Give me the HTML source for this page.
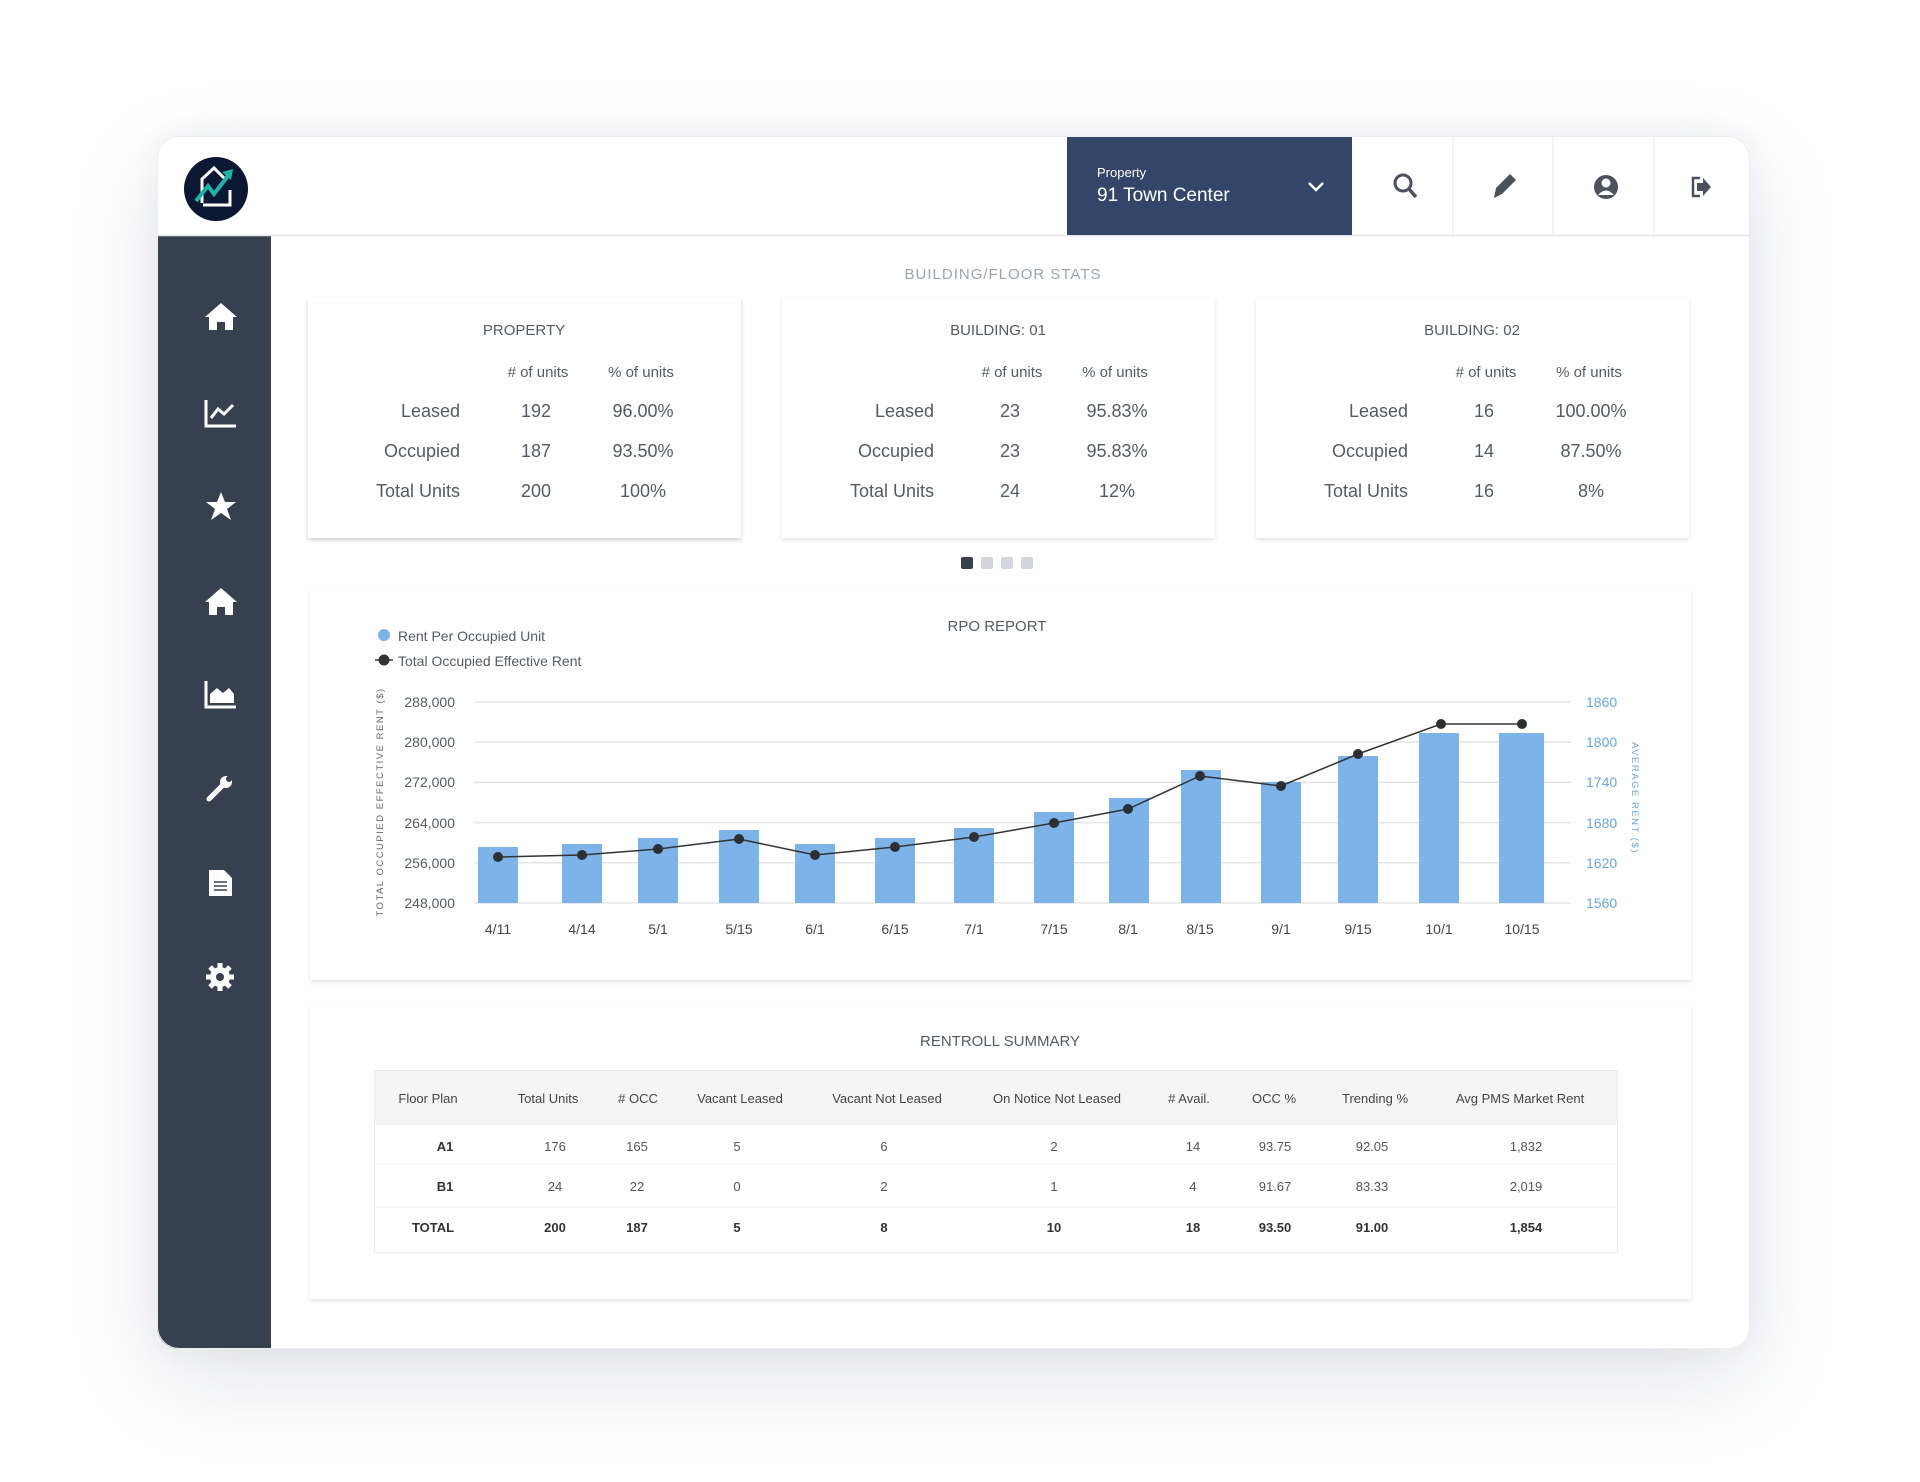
<!DOCTYPE html>
<html><head><meta charset="utf-8">
<style>
html,body{margin:0;padding:0;background:#fff;}
body{width:1920px;height:1482px;position:relative;overflow:hidden;font-family:"Liberation Sans",sans-serif;}
.shadow{position:absolute;left:157px;top:136px;width:1593px;height:1213px;border-radius:22px;box-shadow:0 30px 90px rgba(40,50,80,0.13),0 0 30px rgba(40,50,80,0.05);background:#fff;}
svg{position:absolute;left:0;top:0;}
</style></head><body>
<div class="shadow"></div>
<svg width="1920" height="1482" viewBox="0 0 1920 1482" font-family="Liberation Sans, sans-serif">
<defs>
<filter id="cs" x="-5%" y="-5%" width="110%" height="115%"><feDropShadow dx="0" dy="2" stdDeviation="2" flood-color="#000" flood-opacity="0.10"/></filter>
<clipPath id="cc"><rect x="157" y="136" width="1593" height="1213" rx="22"/></clipPath>
</defs>
<g clip-path="url(#cc)">
<rect x="157" y="136" width="1593" height="1213" fill="#fff"/>
<rect x="157" y="235" width="114" height="1114" fill="#36404e"/>
<line x1="157" y1="235.5" x2="1750" y2="235.5" stroke="#e4e6ea" stroke-width="1.5"/>
<rect x="1067" y="136" width="285" height="99" fill="#34456a"/>
</g>
<rect x="157.5" y="136.5" width="1592" height="1212" rx="22" fill="none" stroke="#eceef1"/>
<!-- header dividers -->
<line x1="1453" y1="136" x2="1453" y2="235" stroke="#e6e8eb"/>
<line x1="1553" y1="136" x2="1553" y2="235" stroke="#e6e8eb"/>
<line x1="1654" y1="136" x2="1654" y2="235" stroke="#e6e8eb"/>
<!-- logo -->
<circle cx="216" cy="189" r="32" fill="#0b1733"/>
<path d="M202 203 L202 179 L214 168 L224 178" fill="none" stroke="#fff" stroke-width="3"/>
<path d="M203 205 L230 205 L230 190" fill="none" stroke="#fff" stroke-width="3"/>
<path d="M196 201 L208 186 L214 194 L228 176" fill="none" stroke="#1fb3a8" stroke-width="4"/>
<polygon points="222,172 233,169 231,180" fill="#1fb3a8"/>
<!-- dropdown -->
<text x="1097" y="177" fill="#fff" font-size="13">Property</text>
<text x="1097" y="201" fill="#fff" font-size="19">91 Town Center</text>
<path d="M1309 183 L1316 190 L1323 183" fill="none" stroke="#fff" stroke-width="2.5"/>
<!-- header icons -->
<circle cx="1403" cy="183" r="8" fill="none" stroke="#4a525c" stroke-width="3"/>
<line x1="1409" y1="189" x2="1416" y2="197" stroke="#4a525c" stroke-width="3.5"/>
<path d="M1494 198 L1496 188 L1510 174 L1516 180 L1502 194 Z" fill="#4a525c"/>
<circle cx="1606" cy="187" r="12" fill="#4a525c"/>
<circle cx="1606" cy="183" r="4.5" fill="#fff"/>
<path d="M1598 195 Q1606 186 1614 195" fill="#fff"/>
<path d="M1700 178 L1693 178 L1693 196 L1700 196" fill="none" stroke="#4a525c" stroke-width="2.5"/>
<polygon points="1697,183 1703,183 1703,178 1711,187 1703,196 1703,191 1697,191" fill="#4a525c"/>
<!-- sidebar icons -->
<g fill="#fff">
<polygon points="221,303 237,317 233,317 233,330 225,330 225,322 217,322 217,330 209,330 209,317 205,317"/>
<path d="M206 400 L206 426 L236 426" fill="none" stroke="#fff" stroke-width="3"/>
<path d="M211 418 L218 409 L224 414 L233 405" fill="none" stroke="#fff" stroke-width="3"/>
<polygon points="221,492 225,502 236,502 227,509 231,520 221,513 211,520 215,509 206,502 217,502"/>
<polygon points="221,588 237,602 233,602 233,615 225,615 225,607 217,607 217,615 209,615 209,602 205,602"/>
<path d="M206 681 L206 707 L236 707" fill="none" stroke="#fff" stroke-width="3"/>
<polygon points="210,703 210,694 217,688 223,693 229,688 234,694 234,703"/>
<path d="M209 799 L223 785" stroke="#fff" stroke-width="5" stroke-linecap="round"/>
<circle cx="226" cy="782" r="6"/>
<circle cx="229" cy="779" r="3" fill="#36404e"/>
<path d="M209 870 L224 870 L232 878 L232 896 L209 896 Z"/>
<g stroke="#36404e" stroke-width="1.5"><line x1="214" y1="882" x2="227" y2="882"/><line x1="214" y1="886" x2="227" y2="886"/><line x1="214" y1="890" x2="227" y2="890"/></g>
<circle cx="220" cy="977" r="10"/>
<g stroke="#fff" stroke-width="5"><line x1="220" y1="963" x2="220" y2="991"/><line x1="206" y1="977" x2="234" y2="977"/><line x1="210" y1="967" x2="230" y2="987"/><line x1="230" y1="967" x2="210" y2="987"/></g>
<circle cx="220" cy="977" r="4" fill="#36404e"/>
</g>
<!-- building stats -->
<text x="1003" y="279" fill="#9aa5b1" font-size="15" text-anchor="middle" letter-spacing="1">BUILDING/FLOOR STATS</text>
<g font-size="18" fill="#555b63">
<g transform="translate(0,0)">
<rect x="308" y="298" width="433" height="240" fill="#fff" filter="url(#cs)"/>
<text x="524" y="335" text-anchor="middle" font-size="15">PROPERTY</text>
<text x="538" y="377" text-anchor="middle" font-size="15">% of units</text>
<text x="460" y="417" text-anchor="end">Leased</text><text x="536" y="417" text-anchor="middle">192</text><text x="643" y="417" text-anchor="middle">96.00%</text>
<text x="460" y="457" text-anchor="end">Occupied</text><text x="536" y="457" text-anchor="middle">187</text><text x="643" y="457" text-anchor="middle">93.50%</text>
<text x="460" y="497" text-anchor="end">Total Units</text><text x="536" y="497" text-anchor="middle">200</text><text x="643" y="497" text-anchor="middle">100%</text>
</g>
</g>
</svg>
<!-- simpler: rebuild stats cards fully below -->
<svg width="1920" height="1482" viewBox="0 0 1920 1482" font-family="Liberation Sans, sans-serif">
<defs><filter id="cs2" x="-5%" y="-5%" width="110%" height="115%"><feDropShadow dx="0" dy="2" stdDeviation="2" flood-color="#000" flood-opacity="0.10"/></filter></defs>
<g font-size="18" fill="#555b63">
<g id="c1">
<rect x="308" y="298" width="433" height="240" fill="#fff" filter="url(#cs2)"/>
<text x="524" y="335" text-anchor="middle" font-size="15">PROPERTY</text>
<text x="538" y="377" text-anchor="middle" font-size="15"># of units</text>
<text x="641" y="377" text-anchor="middle" font-size="15">% of units</text>
<text x="460" y="417" text-anchor="end">Leased</text><text x="536" y="417" text-anchor="middle">192</text><text x="643" y="417" text-anchor="middle">96.00%</text>
<text x="460" y="457" text-anchor="end">Occupied</text><text x="536" y="457" text-anchor="middle">187</text><text x="643" y="457" text-anchor="middle">93.50%</text>
<text x="460" y="497" text-anchor="end">Total Units</text><text x="536" y="497" text-anchor="middle">200</text><text x="643" y="497" text-anchor="middle">100%</text>
</g>
<g transform="translate(474,0)">
<rect x="308" y="298" width="433" height="240" fill="#fff" filter="url(#cs2)"/>
<text x="524" y="335" text-anchor="middle" font-size="15">BUILDING: 01</text>
<text x="538" y="377" text-anchor="middle" font-size="15"># of units</text>
<text x="641" y="377" text-anchor="middle" font-size="15">% of units</text>
<text x="460" y="417" text-anchor="end">Leased</text><text x="536" y="417" text-anchor="middle">23</text><text x="643" y="417" text-anchor="middle">95.83%</text>
<text x="460" y="457" text-anchor="end">Occupied</text><text x="536" y="457" text-anchor="middle">23</text><text x="643" y="457" text-anchor="middle">95.83%</text>
<text x="460" y="497" text-anchor="end">Total Units</text><text x="536" y="497" text-anchor="middle">24</text><text x="643" y="497" text-anchor="middle">12%</text>
</g>
<g transform="translate(948,0)">
<rect x="308" y="298" width="433" height="240" fill="#fff" filter="url(#cs2)"/>
<text x="524" y="335" text-anchor="middle" font-size="15">BUILDING: 02</text>
<text x="538" y="377" text-anchor="middle" font-size="15"># of units</text>
<text x="641" y="377" text-anchor="middle" font-size="15">% of units</text>
<text x="460" y="417" text-anchor="end">Leased</text><text x="536" y="417" text-anchor="middle">16</text><text x="643" y="417" text-anchor="middle">100.00%</text>
<text x="460" y="457" text-anchor="end">Occupied</text><text x="536" y="457" text-anchor="middle">14</text><text x="643" y="457" text-anchor="middle">87.50%</text>
<text x="460" y="497" text-anchor="end">Total Units</text><text x="536" y="497" text-anchor="middle">16</text><text x="643" y="497" text-anchor="middle">8%</text>
</g>
</g>
<!-- pager dots -->
<rect x="961" y="557" width="12" height="12" rx="2" fill="#36404e"/>
<rect x="981" y="557" width="12" height="12" rx="2" fill="#d3d6da"/>
<rect x="1001" y="557" width="12" height="12" rx="2" fill="#d3d6da"/>
<rect x="1021" y="557" width="12" height="12" rx="2" fill="#d3d6da"/>
<!-- RPO card -->
<rect x="310" y="590" width="1381" height="390" fill="#fff" filter="url(#cs2)"/>
<text x="997" y="631" text-anchor="middle" font-size="15" fill="#555b63">RPO REPORT</text>
<circle cx="384" cy="635" r="6" fill="#7cb4ea"/>
<text x="398" y="641" font-size="14" fill="#555b63">Rent Per Occupied Unit</text>
<line x1="375" y1="660" x2="393" y2="660" stroke="#333" stroke-width="1.5"/>
<circle cx="384" cy="660" r="5.5" fill="#333"/>
<text x="398" y="666" font-size="14" fill="#555b63">Total Occupied Effective Rent</text>
<g stroke="#e3e5e8" stroke-width="1.5">
<line x1="474" y1="702" x2="1571" y2="702"/><line x1="474" y1="742.2" x2="1571" y2="742.2"/><line x1="474" y1="782.4" x2="1571" y2="782.4"/><line x1="474" y1="822.6" x2="1571" y2="822.6"/><line x1="474" y1="862.8" x2="1571" y2="862.8"/><line x1="474" y1="903" x2="1571" y2="903"/>
</g>
<g font-size="14" fill="#555b63" text-anchor="end">
<text x="455" y="707">288,000</text><text x="455" y="747">280,000</text><text x="455" y="787">272,000</text><text x="455" y="828">264,000</text><text x="455" y="868">256,000</text><text x="455" y="908">248,000</text>
</g>
<g font-size="14" fill="#6aa6e0">
<text x="1586" y="707">1860</text><text x="1586" y="747">1800</text><text x="1586" y="787">1740</text><text x="1586" y="828">1680</text><text x="1586" y="868">1620</text><text x="1586" y="908">1560</text>
</g>
<text transform="translate(383,802) rotate(-90)" text-anchor="middle" font-size="9.5" letter-spacing="1.5" fill="#666">TOTAL OCCUPIED EFFECTIVE RENT ($)</text>
<text transform="translate(1632,798) rotate(90)" text-anchor="middle" font-size="9.5" letter-spacing="1.5" fill="#6aa6e0">AVERAGE RENT ($)</text>
<g fill="#7cb4ea">
<rect x="478" y="847" width="40" height="56"/>
<rect x="562" y="844" width="40" height="59"/>
<rect x="638" y="838" width="40" height="65"/>
<rect x="719" y="830" width="40" height="73"/>
<rect x="795" y="844" width="40" height="59"/>
<rect x="875" y="838" width="40" height="65"/>
<rect x="954" y="828" width="40" height="75"/>
<rect x="1034" y="812" width="40" height="91"/>
<rect x="1109" y="798" width="40" height="105"/>
<rect x="1181" y="770" width="40" height="133"/>
<rect x="1261" y="782" width="40" height="121"/>
<rect x="1338" y="756" width="40" height="147"/>
<rect x="1419" y="733" width="40" height="170"/>
<rect x="1499" y="733" width="45" height="170"/>
</g>
<polyline fill="none" stroke="#333" stroke-width="1.5" points="498,857 582,855 658,849 739,839 815,855 895,847 974,837 1054,823 1128,809 1200,776 1281,786 1358,754 1441,724 1522,724"/>
<g fill="#2d2f33">
<circle cx="498" cy="857" r="5"/><circle cx="582" cy="855" r="5"/><circle cx="658" cy="849" r="5"/><circle cx="739" cy="839" r="5"/><circle cx="815" cy="855" r="5"/><circle cx="895" cy="847" r="5"/><circle cx="974" cy="837" r="5"/><circle cx="1054" cy="823" r="5"/><circle cx="1128" cy="809" r="5"/><circle cx="1200" cy="776" r="5"/><circle cx="1281" cy="786" r="5"/><circle cx="1358" cy="754" r="5"/><circle cx="1441" cy="724" r="5"/><circle cx="1522" cy="724" r="5"/>
</g>
<g font-size="14" fill="#444" text-anchor="middle">
<text x="498" y="934">4/11</text><text x="582" y="934">4/14</text><text x="658" y="934">5/1</text><text x="739" y="934">5/15</text><text x="815" y="934">6/1</text><text x="895" y="934">6/15</text><text x="974" y="934">7/1</text><text x="1054" y="934">7/15</text><text x="1128" y="934">8/1</text><text x="1200" y="934">8/15</text><text x="1281" y="934">9/1</text><text x="1358" y="934">9/15</text><text x="1439" y="934">10/1</text><text x="1522" y="934">10/15</text>
</g>
<!-- Rentroll card -->
<rect x="310" y="1007" width="1381" height="292" fill="#fff" filter="url(#cs2)"/>
<text x="1000" y="1046" text-anchor="middle" font-size="15" fill="#555b63">RENTROLL SUMMARY</text>
<rect x="374" y="1070" width="1244" height="55" fill="#f5f5f5"/>
<rect x="374.5" y="1070.5" width="1243" height="182" fill="none" stroke="#ececec"/>
<line x1="374" y1="1164" x2="1618" y2="1164" stroke="#ececec"/>
<line x1="374" y1="1207" x2="1618" y2="1207" stroke="#ececec"/>
<g font-size="13" fill="#444" text-anchor="middle">
<text x="428" y="1103">Floor Plan</text><text x="548" y="1103">Total Units</text><text x="638" y="1103"># OCC</text><text x="740" y="1103">Vacant Leased</text><text x="887" y="1103">Vacant Not Leased</text><text x="1057" y="1103">On Notice Not Leased</text><text x="1189" y="1103"># Avail.</text><text x="1274" y="1103">OCC %</text><text x="1375" y="1103">Trending %</text><text x="1520" y="1103">Avg PMS Market Rent</text>
</g>
<g font-size="13" fill="#555" text-anchor="middle">
<text x="445" y="1151" font-weight="bold" fill="#333">A1</text><text x="555" y="1151">176</text><text x="637" y="1151">165</text><text x="737" y="1151">5</text><text x="884" y="1151">6</text><text x="1054" y="1151">2</text><text x="1193" y="1151">14</text><text x="1275" y="1151">93.75</text><text x="1372" y="1151">92.05</text><text x="1526" y="1151">1,832</text>
<text x="445" y="1191" font-weight="bold" fill="#333">B1</text><text x="555" y="1191">24</text><text x="637" y="1191">22</text><text x="737" y="1191">0</text><text x="884" y="1191">2</text><text x="1054" y="1191">1</text><text x="1193" y="1191">4</text><text x="1275" y="1191">91.67</text><text x="1372" y="1191">83.33</text><text x="1526" y="1191">2,019</text>
</g>
<g font-size="13" fill="#333" font-weight="bold" text-anchor="middle">
<text x="433" y="1232">TOTAL</text><text x="555" y="1232">200</text><text x="637" y="1232">187</text><text x="737" y="1232">5</text><text x="884" y="1232">8</text><text x="1054" y="1232">10</text><text x="1193" y="1232">18</text><text x="1275" y="1232">93.50</text><text x="1372" y="1232">91.00</text><text x="1526" y="1232">1,854</text>
</g>
</svg>
</body></html>
